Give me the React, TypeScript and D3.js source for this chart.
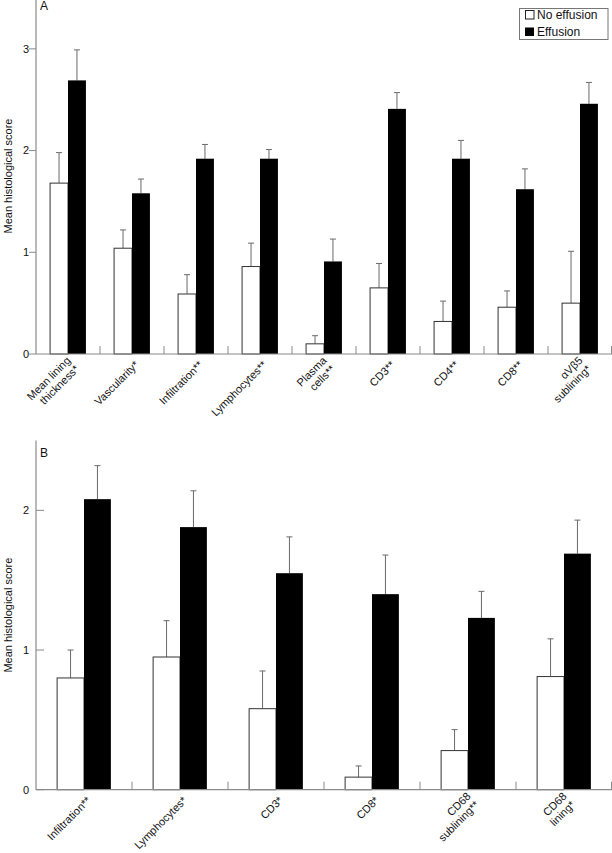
import * as d3 from "d3";

// Panel A
const catsA = [
  ["Mean lining", "thickness*"],
  ["Vascularity*"],
  ["Infiltration**"],
  ["Lymphocytes**"],
  ["Plasma", "cells**"],
  ["CD3**"],
  ["CD4**"],
  ["CD8**"],
  ["\u03b1V\u03b25", "sublining*"],
];
const noEffA = [1.68, 1.04, 0.59, 0.86, 0.1, 0.65, 0.32, 0.46, 0.5];
const noEffErrA = [0.3, 0.18, 0.19, 0.23, 0.08, 0.24, 0.2, 0.16, 0.51];
const effA = [2.69, 1.58, 1.92, 1.92, 0.91, 2.41, 1.92, 1.62, 2.46];
const effErrA = [0.3, 0.14, 0.14, 0.09, 0.22, 0.16, 0.18, 0.2, 0.21];
const ticksA = [0, 1, 2, 3];

// Panel B
const catsB = [
  ["Infiltration**"],
  ["Lymphocytes*"],
  ["CD3*"],
  ["CD8*"],
  ["CD68", "sublining**"],
  ["CD68", "lining*"],
];
const noEffB = [0.8, 0.95, 0.58, 0.09, 0.28, 0.81];
const noEffErrB = [0.2, 0.26, 0.27, 0.08, 0.15, 0.27];
const effB = [2.08, 1.88, 1.55, 1.4, 1.23, 1.69];
const effErrB = [0.24, 0.26, 0.26, 0.28, 0.19, 0.24];
const ticksB = [0, 1, 2];

const FONT = "'Liberation Sans', Arial, Helvetica, sans-serif";
const AXIS = "#8a8a8a";
const ERR = "#6a6a6a";

type PanelProps = {
  letter: string;
  cats: string[][];
  noEff: number[];
  noEffErr: number[];
  eff: number[];
  effErr: number[];
  ticks: number[];
  yMax: number;
  top: number;
  bottom: number;
  ticksInward: boolean;
};

function Panel(p: PanelProps) {
  const left = 36;
  const right = 612;
  const x = d3
    .scaleBand<number>()
    .domain(d3.range(p.cats.length))
    .range([left, right])
    .padding(0);
  const y = d3.scaleLinear().domain([0, p.yMax]).range([p.bottom, p.top]);
  const bw = x.bandwidth();
  const barW = bw * 0.28;

  const errBar = (cx: number, v: number, e: number, key: string) => (
    <g key={key} stroke={ERR} strokeWidth={1}>
      <line x1={cx} x2={cx} y1={y(v)} y2={y(v + e)} />
      <line x1={cx - 3} x2={cx + 3} y1={y(v + e)} y2={y(v + e)} />
    </g>
  );

  return (
    <g>
      {/* bars */}
      {p.cats.map((_, i) => {
        const c = (x(i) as number) + bw / 2;
        return (
          <g key={i}>
            {errBar(c - barW / 2, p.noEff[i], p.noEffErr[i], "e0")}
            {errBar(c + barW / 2, p.eff[i], p.effErr[i], "e1")}
            <rect
              x={c - barW}
              y={y(p.noEff[i])}
              width={barW}
              height={y(0) - y(p.noEff[i])}
              fill="#fff"
              stroke="#333"
              strokeWidth={1}
            />
            <rect
              x={c}
              y={y(p.eff[i])}
              width={barW}
              height={y(0) - y(p.eff[i])}
              fill="#000"
            />
          </g>
        );
      })}

      {/* y axis */}
      <line x1={left} x2={left} y1={p.top} y2={p.bottom} stroke={AXIS} strokeWidth={1.2} />
      {p.ticks.map((t) => (
        <g key={t}>
          <line
            x1={p.ticksInward ? left : left - 7}
            x2={p.ticksInward ? left + 8 : left}
            y1={y(t)}
            y2={y(t)}
            stroke={AXIS}
            strokeWidth={1}
          />
          <text
            x={29}
            y={y(t)}
            dy="0.35em"
            textAnchor="end"
            fontSize={11}
            fontFamily={FONT}
            fill="#111"
          >
            {t}
          </text>
        </g>
      ))}

      {/* x axis */}
      <line x1={left} x2={right} y1={p.bottom} y2={p.bottom} stroke={AXIS} strokeWidth={1.2} />
      {p.cats.map((_, i) => {
        const xs = (x(i) as number) + bw;
        const xx = Math.min(xs, right - 0.5);
        return (
          <line key={i} x1={xx} x2={xx} y1={p.bottom - 8} y2={p.bottom} stroke={AXIS} strokeWidth={1} />
        );
      })}

      {/* category labels */}
      {p.cats.map((lines, i) => {
        const c = (x(i) as number) + bw / 2;
        const n = lines.length;
        return (
          <text
            key={i}
            transform={`translate(${c + 2},${p.bottom + 6}) rotate(-45)`}
            textAnchor="end"
            fontSize={11}
            fontFamily={FONT}
            fill="#111"
          >
            {lines.map((ln, j) => (
              <tspan key={j} x={0} y={(j - (n - 1) / 2) * 12} dy="0.71em">
                {ln}
              </tspan>
            ))}
          </text>
        );
      })}

      {/* y label */}
      <text
        transform={`translate(12,${(p.top + p.bottom) / 2}) rotate(-90)`}
        textAnchor="middle"
        fontSize={11}
        fontFamily={FONT}
        fill="#111"
      >
        Mean histological score
      </text>

      {/* panel letter */}
      <text x={40} y={p.top + (p.letter === "A" ? 12 : 16)} fontSize={12} fontFamily={FONT} fill="#111">
        {p.letter}
      </text>
    </g>
  );
}

export default function App() {
  return (
    <svg
      width={612}
      height={853}
      style={{ position: "absolute", left: 0, top: 0, background: "#fff" }}
    >
      <Panel
        letter="A"
        cats={catsA}
        noEff={noEffA}
        noEffErr={noEffErrA}
        eff={effA}
        effErr={effErrA}
        ticks={ticksA}
        yMax={3.5}
        top={-2}
        bottom={354}
        ticksInward={false}
      />
      <Panel
        letter="B"
        cats={catsB}
        noEff={noEffB}
        noEffErr={noEffErrB}
        eff={effB}
        effErr={effErrB}
        ticks={ticksB}
        yMax={2.5}
        top={440.5}
        bottom={789.7}
        ticksInward={true}
      />

      {/* legend */}
      <g fontFamily={FONT} fontSize={12} fill="#111">
        <rect x={519.5} y={8.5} width={88.5} height={31} fill="#fff" stroke="#777" strokeWidth={1} />
        <rect x={525.5} y={10.5} width={8.5} height={8.5} fill="#fff" stroke="#222" strokeWidth={1} />
        <text x={537} y={19}>No effusion</text>
        <rect x={525} y={27.5} width={9} height={8.5} fill="#000" />
        <text x={537} y={36}>Effusion</text>
      </g>
    </svg>
  );
}
